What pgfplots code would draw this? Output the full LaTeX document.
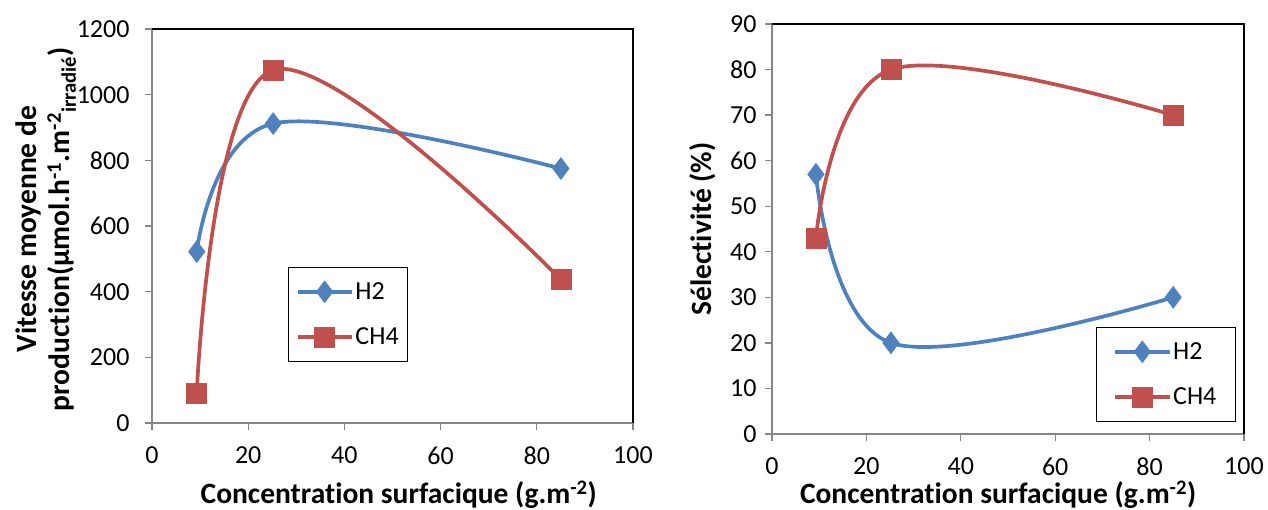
\documentclass[border=0pt]{standalone}
\usepackage{fontspec}
\setmainfont{Carlito}[Ligatures=NoCommon]
\usepackage{pgfplots}
\pgfplotsset{compat=1.18}
\definecolor{cblue}{HTML}{4F81BD}
\definecolor{cred}{HTML}{C0504D}
\definecolor{axgrey}{HTML}{868686}
\pgfplotsset{
 exstyle/.style={
  scale only axis,
  axis x line*=bottom, axis y line*=left,
  axis line style={axgrey, line width=1.3bp, -},
  tick style={axgrey, line width=1.3bp},
  tick align=outside,
  major tick length=7bp,
  xmin=0, xmax=100, xtick={0,20,...,100},
  tick label style={font=\fontsize{26bp}{30bp}\selectfont},
  /pgf/number format/assume math mode=true,
  /pgf/number format/1000 sep={},
  xticklabel style={yshift=-13bp},
  xlabel style={anchor=center, font=\bfseries\fontsize{29.5bp}{33bp}\selectfont},
  ylabel style={anchor=center, rotate=0, align=center, font=\bfseries\fontsize{29.5bp}{33bp}\selectfont},
  after end axis/.code={\draw[black,line width=1.3bp] (rel axis cs:0,1) -- (rel axis cs:1,1) -- (rel axis cs:1,0);},
  legend style={draw=black, line width=1.3bp, font=\fontsize{26bp}{30bp}\selectfont,
    row sep=23bp, inner ysep=13bp,
    nodes={inner sep=2bp}},
  legend cell align=left,
  legend image code/.code={\draw[mark repeat=2,mark phase=2] plot coordinates {(0bp,0bp)(27bp,0bp)(54bp,0bp)};},
  h2/.style={color=cblue, line width=3.7bp, smooth, tension=0.62, mark=diamond*, mark size=11bp, mark options={solid, fill=cblue, draw=cblue, line width=0.5bp}},
  ch4/.style={color=cred, line width=3.7bp, smooth, tension=0.62, mark=square*, mark size=10bp, mark options={solid, fill=cred, draw=cred, line width=0.5bp}},
 }
}
\begin{document}
\begin{tikzpicture}
\useasboundingbox (0,0) rectangle (1268bp,510bp);
\begin{axis}[exstyle,
  at={(152bp,87bp)}, anchor=south west,
  width=481bp, height=394bp,
  ymin=0, ymax=1200, ytick={0,200,...,1200},
  yticklabel style={xshift=-12bp},
  xlabel={Concentration surfacique (g.m\textsuperscript{-2})},
  xlabel style={at={(axis description cs:0.513,-0.181)}},
  ylabel={Vitesse moyenne de\\production(µmol.h\textsuperscript{-1}.m\textsuperscript{-2}\textsubscript{irradié})},
  ylabel style={at={(axis description cs:-0.22,0.492)}},
  legend style={at={(0.283,0.396)}, anchor=north west, inner xsep=7bp},
]
\addplot[h2] coordinates {(9.3,522) (25.2,912) (85,775)};
\addlegendentry{H2}
\addplot[ch4] coordinates {(9.3,92) (25.2,1075) (85,437)};
\addlegendentry{CH4}
\end{axis}
\begin{axis}[exstyle,
  at={(772bp,76bp)}, anchor=south west,
  width=472bp, height=410bp,
  ymin=0, ymax=90, ytick={0,10,...,90},
  yticklabel style={xshift=-5bp},
  xlabel={Concentration surfacique (g.m\textsuperscript{-2})},
  xlabel style={at={(axis description cs:0.479,-0.147)}},
  ylabel={Sélectivité (\%)},
  ylabel style={at={(axis description cs:-0.146,0.5)}},
  legend style={at={(0.686,0.261)}, anchor=north west, inner xsep=17bp},
]
\addplot[h2] coordinates {(9.3,57) (25.2,20) (85,30)};
\addlegendentry{H2}
\addplot[ch4] coordinates {(9.3,43) (25.2,80) (85,70)};
\addlegendentry{CH4}
\end{axis}
\end{tikzpicture}
\end{document}
